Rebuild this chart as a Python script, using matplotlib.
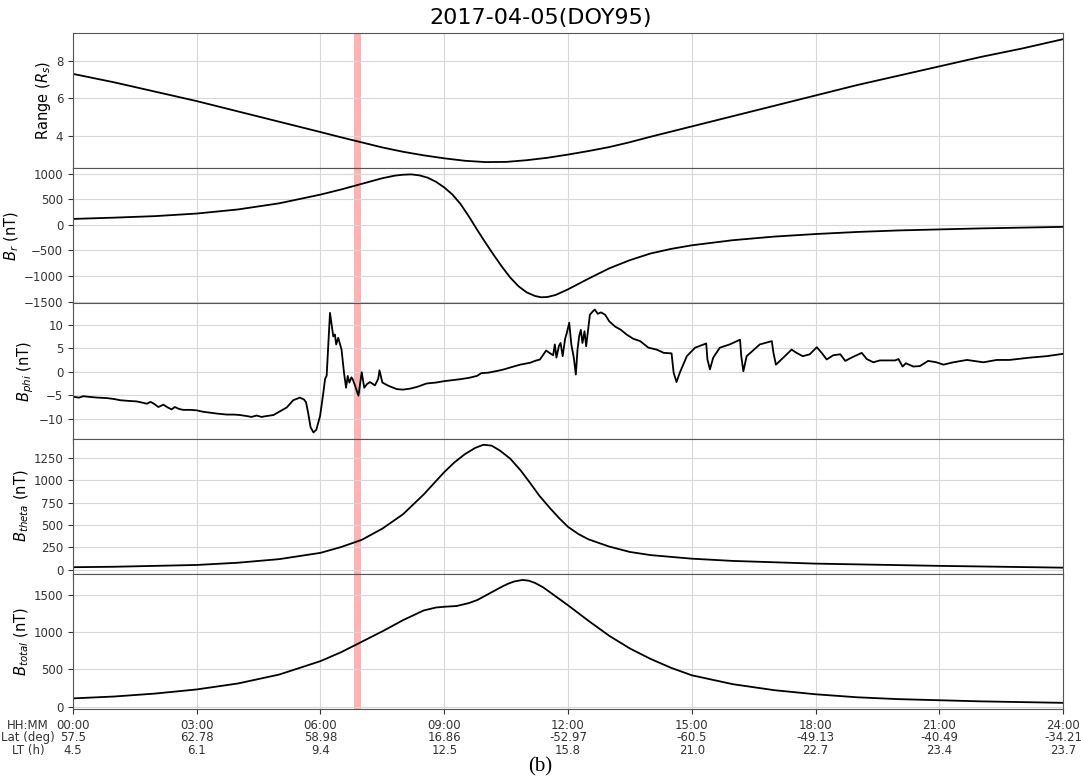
import numpy as np
import matplotlib
matplotlib.use("Agg")
import matplotlib.pyplot as plt

# ── data (hours since 00:00) ────────────────────────────────────────────────
range_t = [0, 1, 2, 3, 4, 5, 6, 6.5, 7, 7.5, 8, 8.5, 9, 9.5, 10, 10.5, 11,
           11.5, 12, 12.5, 13, 13.5, 14, 15, 16, 17, 18, 19, 20, 21, 22, 23, 24]
range_v = [7.3, 6.85, 6.35, 5.85, 5.3, 4.75, 4.2, 3.92, 3.65, 3.38, 3.15,
           2.96, 2.8, 2.67, 2.6, 2.61, 2.7, 2.83, 3.0, 3.19, 3.4, 3.66, 3.95,
           4.5, 5.05, 5.6, 6.15, 6.7, 7.2, 7.7, 8.2, 8.65, 9.15]

br_t = [0, 1, 2, 3, 4, 5, 6, 6.5, 7, 7.5, 7.8, 8, 8.2, 8.4, 8.6, 8.8, 9,
        9.2, 9.4, 9.6, 9.8, 10, 10.2, 10.4, 10.6, 10.8, 11, 11.2, 11.35, 11.5,
        11.7, 12, 12.5, 13, 13.5, 14, 14.5, 15, 16, 17, 18, 19, 20, 21, 22,
        23, 24]
br_v = [115, 140, 170, 220, 300, 420, 590, 690, 800, 910, 960, 978, 985, 965,
        920, 840, 730, 590, 400, 160, -100, -350, -590, -820, -1030, -1200,
        -1320, -1390, -1415, -1410, -1370, -1260, -1050, -850, -690, -560,
        -470, -400, -300, -230, -180, -140, -110, -90, -70, -55, -40]

bphi_t = [0.00, 0.15, 0.25, 0.40, 0.60, 0.82, 1.00, 1.14, 1.35, 1.54, 1.70,
          1.79, 1.88, 1.98, 2.07, 2.19, 2.30, 2.39, 2.47, 2.57, 2.67, 2.85,
          3.00, 3.15, 3.32, 3.50, 3.73, 3.90, 4.05, 4.20, 4.33, 4.45, 4.57,
          4.70, 4.86, 5.02, 5.18, 5.34, 5.50, 5.60, 5.65, 5.70, 5.76, 5.83,
          5.90, 5.99, 6.07, 6.11, 6.15, 6.23, 6.31, 6.35, 6.38, 6.43, 6.51,
          6.57, 6.62, 6.66, 6.70, 6.75, 6.78, 6.84, 6.92, 7.00, 7.06, 7.13,
          7.20, 7.32, 7.40, 7.43, 7.50, 7.65, 7.85, 8.00, 8.17, 8.35, 8.57,
          8.80, 9.00, 9.20, 9.38, 9.60, 9.79, 9.90, 10.07, 10.30, 10.45,
          10.64, 10.84, 11.08, 11.20, 11.32, 11.40, 11.47, 11.55, 11.64,
          11.68, 11.72, 11.78, 11.82, 11.87, 11.93, 11.97, 12.03, 12.08,
          12.14, 12.19, 12.23, 12.27, 12.31, 12.35, 12.40, 12.44, 12.53,
          12.60, 12.65, 12.72, 12.80, 12.90, 13.00, 13.14, 13.28, 13.42,
          13.58, 13.75, 13.95, 14.15, 14.32, 14.51, 14.56, 14.63, 14.71,
          14.88, 15.08, 15.35, 15.38, 15.44, 15.52, 15.68, 15.92, 16.17,
          16.20, 16.25, 16.33, 16.65, 16.94, 16.98, 17.04, 17.22, 17.42,
          17.54, 17.69, 17.86, 18.03, 18.15, 18.27, 18.43, 18.60, 18.72,
          18.92, 19.12, 19.24, 19.40, 19.56, 19.93, 20.01, 20.11, 20.19,
          20.37, 20.53, 20.73, 20.93, 21.10, 21.34, 21.67, 22.07, 22.39,
          22.70, 23.20, 23.60, 24.00]
bphi_v = [-5.3, -5.5, -5.2, -5.35, -5.5, -5.6, -5.8, -6.05, -6.2, -6.3, -6.6,
          -6.8, -6.4, -6.9, -7.5, -7.0, -7.6, -8.0, -7.5, -7.9, -8.1, -8.1,
          -8.2, -8.5, -8.7, -8.9, -9.1, -9.1, -9.2, -9.4, -9.6, -9.3, -9.6,
          -9.4, -9.2, -8.4, -7.6, -6.05, -5.5, -5.9, -6.5, -8.7, -11.8, -12.9,
          -12.3, -9.4, -4.4, -1.6, -0.8, 12.5, 7.5, 7.9, 5.8, 7.2, 4.7,
          -0.2, -3.4, -0.9, -2.3, -1.2, -1.6, -3.0, -5.1, -0.1, -3.4, -2.6,
          -2.2, -2.9, -1.5, 0.3, -2.3, -3.0, -3.7, -3.8, -3.6, -3.2, -2.5,
          -2.3, -2.0, -1.8, -1.6, -1.3, -0.9, -0.3, -0.2, 0.2, 0.5,
          1.0, 1.5, 1.9, 2.3, 2.6, 3.6, 4.5, 4.0, 3.5,
          5.8, 3.0, 5.5, 6.1, 3.3, 7.0, 8.2, 10.4, 5.8,
          3.0, -0.6, 4.7, 7.5, 8.9, 6.1, 8.6, 5.4, 12.1,
          12.8, 13.2, 12.3, 12.6, 12.1, 10.7, 9.6, 8.9, 7.9,
          7.0, 6.5, 5.1, 4.7, 4.0, 3.9, -0.2, -2.2, -0.2,
          3.3, 5.1, 6.0, 2.6, 0.5, 3.0, 5.1, 5.8, 6.8,
          3.3, 0.1, 3.3, 5.8, 6.5, 4.0, 1.5, 3.0, 4.7,
          4.0, 3.3, 3.7, 5.2, 4.0, 2.6, 3.5, 3.7, 2.3,
          3.2, 4.0, 2.7, 2.0, 2.4, 2.4, 2.7, 1.1, 1.8,
          1.1, 1.2, 2.3, 2.0, 1.5, 2.0, 2.5, 2.0, 2.5,
          2.5, 3.0, 3.3, 3.8]

bth_t = [0, 1, 2, 3, 4, 5, 6, 6.5, 7, 7.5, 8, 8.5, 9, 9.25, 9.5, 9.75, 9.95,
         10.15, 10.35, 10.6, 10.85, 11.08, 11.3, 11.56, 11.8, 12, 12.25, 12.5,
         13, 13.5, 14, 15, 16, 18, 21, 24]
bth_v = [30, 35, 45, 55, 80, 120, 190, 255, 335, 460, 620, 840, 1090, 1200,
         1290, 1360, 1395, 1385, 1330, 1240, 1110, 970, 830, 690, 570, 480,
         400, 340, 260, 200, 165, 125, 100, 70, 45, 25]

btot_t = [0, 1, 2, 3, 4, 5, 6, 6.5, 7, 7.5, 8, 8.5, 8.8, 9, 9.3, 9.6, 9.8, 10,
          10.2, 10.4, 10.55, 10.7, 10.9, 11.05, 11.2, 11.4, 11.6, 11.8, 12,
          12.5, 13, 13.5, 14, 14.5, 15, 16, 17, 18, 19, 20, 21, 22, 23, 24]
btot_v = [110, 135, 175, 230, 310, 430, 610, 730, 870, 1010, 1160, 1290,
          1330, 1340, 1350, 1390, 1430, 1490, 1550, 1610, 1650, 1680, 1700,
          1690, 1660, 1600, 1520, 1440, 1360, 1150, 950, 780, 640, 520, 420,
          300, 220, 165, 125, 100, 85, 70, 60, 50]

hour_ticks = [0, 3, 6, 9, 12, 15, 18, 21, 24]
hhmm = ["00:00", "03:00", "06:00", "09:00", "12:00", "15:00", "18:00", "21:00", "24:00"]
lat = ["57.5", "62.78", "58.98", "16.86", "-52.97", "-60.5", "-49.13", "-40.49", "-34.21"]
lt = ["4.5", "6.1", "9.4", "12.5", "15.8", "21.0", "22.7", "23.4", "23.7"]

event_start, event_end = 6.82, 6.98

# ── figure ──────────────────────────────────────────────────────────────────
fig, axes = plt.subplots(5, 1, sharex=True, figsize=(10.81, 7.81), dpi=100)
fig.subplots_adjust(left=0.0675, right=0.9834, top=0.9577, bottom=0.0922,
                    hspace=0)
fig.suptitle("2017-04-05(DOY95)", fontsize=16, y=0.99)

series = [(range_t, range_v, r"Range ($R_s$)"),
          (br_t, br_v, r"$B_r$ (nT)"),
          (bphi_t, bphi_v, r"$B_{phi}$ (nT)"),
          (bth_t, bth_v, r"$B_{theta}$ (nT)"),
          (btot_t, btot_v, r"$B_{total}$ (nT)")]

for ax, (t, v, lab) in zip(axes, series):
    ax.plot(t, v, color="black", lw=1.3)
    ax.axvspan(event_start, event_end, color="red", alpha=0.3, lw=0)
    ax.set_ylabel(lab, fontsize=10.5, labelpad=2)
    ax.grid(True, color="#d8d8d8", lw=0.8)
    ax.tick_params(labelsize=8.5, colors="#333333")
    for sp in ax.spines.values():
        sp.set_color("#555555")

axes[0].set_yticks([4, 6, 8])
axes[1].set_yticks([-1500, -1000, -500, 0, 500, 1000])
axes[2].set_yticks([-10, -5, 0, 5, 10])
axes[3].set_yticks([0, 250, 500, 750, 1000, 1250])
axes[4].set_yticks([0, 500, 1000, 1500])

ax = axes[-1]
ax.set_xlim(0, 24)
ax.set_xticks(hour_ticks)
ax.set_xticklabels([f"{a}\n{b}\n{c}" for a, b, c in zip(hhmm, lat, lt)],
                   fontsize=8.5, linespacing=0.95)
ax.annotate("HH:MM\nLat (deg)\nLT (h)", xy=(0, 0), xycoords="axes fraction",
            xytext=(-13, -7), textcoords="offset points", ha="right", va="top",
            multialignment="center", fontsize=8.5, linespacing=0.95,
            color="#333333")

fig.text(0.5, 0.018, "(b)", ha="center", va="center", fontsize=15,
         family="Liberation Serif")

plt.savefig("out.png", dpi=100)
